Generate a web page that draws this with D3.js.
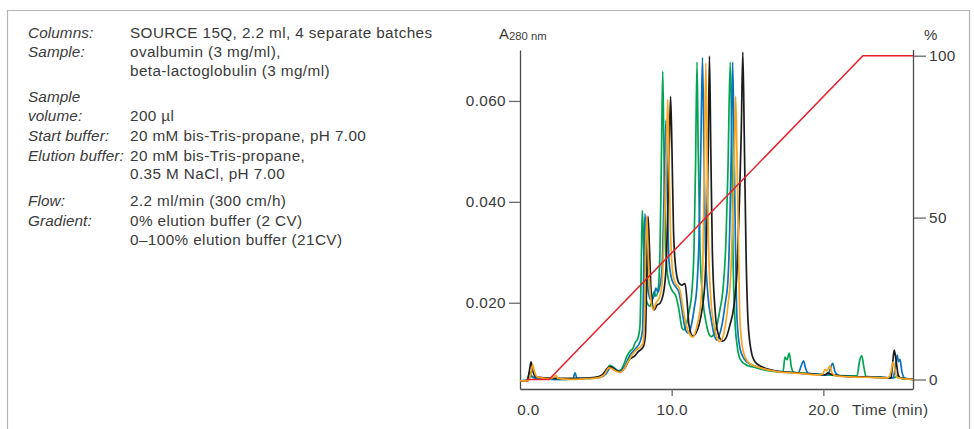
<!DOCTYPE html>
<html>
<head>
<meta charset="utf-8">
<script src="https://cdn.jsdelivr.net/npm/d3@7"></script>
<style>
  html, body { margin: 0; padding: 0; background: #fff; }
  svg text { font-family: "Liberation Sans", Arial, sans-serif; fill: #3a3a3a; }
</style>
</head>
<body>
<svg id="chart" width="974" height="429"></svg>
<script>
// Run conditions listed beside the chromatogram
const conditionLabels = ["Columns:", "Sample:", "", "Sample", "volume:", "Start buffer:",
  "Elution buffer:", "", "Flow:", "Gradient:", ""];
const conditionValues = ["SOURCE 15Q, 2.2 ml, 4 separate batches", "ovalbumin (3 mg/ml),",
  "beta-lactoglobulin (3 mg/ml)", "", "200 µl", "20 mM bis-Tris-propane, pH 7.00",
  "20 mM bis-Tris-propane,", "0.35 M NaCl, pH 7.00", "2.2 ml/min (300 cm/h)",
  "0% elution buffer (2 CV)", "0–100% elution buffer (21CV)"];

// Axis ticks
const timeTicks = [0, 10, 20];
const absTicks = [0.020, 0.040, 0.060];
const pctTicks = [0, 50, 100];

// Elution buffer gradient (time in min, % B)
const gradientTime = [0.4, 1.91, 22.61, 25.91];
const gradientPct = [0, 0, 100, 100];

// A280 traces of the four column batches: [time (min), absorbance]
const batchGreen = [
  [0, 0.0045], [0.46, 0.0045], [0.66, 0.0063], [0.79, 0.0053], [1.32, 0.0051], [1.98, 0.0049],
  [2.64, 0.0048], [3.63, 0.0049], [4.61, 0.0050], [5.27, 0.0053], [5.60, 0.0059], [5.93, 0.0076],
  [6.20, 0.0071], [6.46, 0.0065], [6.66, 0.0067], [6.86, 0.0079], [7.05, 0.0094], [7.25, 0.0104],
  [7.45, 0.0110], [7.58, 0.0120], [7.78, 0.0130], [7.91, 0.0154], [8.00, 0.0285], [8.06, 0.0383],
  [8.14, 0.0324], [8.24, 0.0225], [8.37, 0.0201], [8.57, 0.0193], [8.70, 0.0205], [8.83, 0.0221],
  [8.96, 0.0213], [9.10, 0.0225], [9.23, 0.0304], [9.33, 0.0502], [9.41, 0.0659], [9.48, 0.0522],
  [9.59, 0.0324], [9.76, 0.0249], [10.02, 0.0225], [10.28, 0.0213], [10.48, 0.0186], [10.68, 0.0150],
  [10.81, 0.0146], [10.94, 0.0154], [11.14, 0.0182], [11.34, 0.0225], [11.47, 0.0304], [11.57, 0.0463],
  [11.67, 0.0677], [11.75, 0.0502], [11.87, 0.0304], [12.06, 0.0205], [12.26, 0.0162], [12.46, 0.0138],
  [12.62, 0.0133], [12.79, 0.0138], [12.99, 0.0156], [13.18, 0.0186], [13.38, 0.0225], [13.58, 0.0324],
  [13.71, 0.0463], [13.86, 0.0677], [13.96, 0.0522], [14.04, 0.0304], [14.17, 0.0166], [14.31, 0.0116],
  [14.44, 0.0094], [14.64, 0.0083], [14.90, 0.0077], [15.29, 0.0073], [15.82, 0.0069], [16.48, 0.0065],
  [17.14, 0.0063], [17.34, 0.0063], [17.47, 0.0092], [17.60, 0.0087], [17.75, 0.0100], [17.90, 0.0071],
  [18.06, 0.0062], [18.79, 0.0060], [19.78, 0.0058], [20.77, 0.0056], [21.75, 0.0055], [22.22, 0.0055],
  [22.38, 0.0083], [22.53, 0.0095], [22.68, 0.0071], [22.81, 0.0054], [23.73, 0.0052], [24.39, 0.0051],
  [24.72, 0.0052], [24.92, 0.0055], [25.12, 0.0050], [25.91, 0.0048]
];
const batchBlue = [
  [0, 0.0045], [0.53, 0.0047], [0.73, 0.0055], [0.92, 0.0051], [1.65, 0.0049], [2.64, 0.0048],
  [3.49, 0.0049], [3.63, 0.0061], [3.76, 0.0050], [4.61, 0.0050], [5.27, 0.0052], [5.67, 0.0059],
  [6.00, 0.0073], [6.26, 0.0069], [6.59, 0.0064], [6.92, 0.0075], [7.25, 0.0096], [7.58, 0.0108],
  [7.91, 0.0122], [8.08, 0.0146], [8.17, 0.0285], [8.24, 0.0376], [8.34, 0.0304], [8.44, 0.0225],
  [8.64, 0.0205], [8.83, 0.0213], [8.96, 0.0229], [9.10, 0.0221], [9.23, 0.0235], [9.36, 0.0265],
  [9.49, 0.0403], [9.62, 0.0562], [9.72, 0.0403], [9.82, 0.0285], [10.02, 0.0245], [10.28, 0.0231],
  [10.48, 0.0221], [10.68, 0.0186], [10.88, 0.0150], [11.08, 0.0140], [11.27, 0.0152], [11.47, 0.0186],
  [11.67, 0.0235], [11.80, 0.0324], [11.92, 0.0502], [12.03, 0.0686], [12.13, 0.0502], [12.23, 0.0304],
  [12.39, 0.0215], [12.59, 0.0170], [12.79, 0.0138], [12.97, 0.0126], [13.12, 0.0134], [13.32, 0.0156],
  [13.51, 0.0195], [13.71, 0.0245], [13.84, 0.0364], [13.93, 0.0502], [14.02, 0.0677], [14.12, 0.0502],
  [14.21, 0.0304], [14.31, 0.0166], [14.50, 0.0110], [14.77, 0.0089], [15.16, 0.0079], [15.82, 0.0071],
  [16.81, 0.0065], [17.80, 0.0062], [18.34, 0.0061], [18.54, 0.0075], [18.69, 0.0085], [18.82, 0.0071],
  [18.99, 0.0060], [19.78, 0.0058], [20.30, 0.0057], [20.50, 0.0073], [20.61, 0.0080], [20.77, 0.0063],
  [21.09, 0.0055], [22.41, 0.0053], [23.73, 0.0052], [24.59, 0.0051], [24.72, 0.0067], [24.87, 0.0096],
  [24.95, 0.0083], [25.05, 0.0088], [25.18, 0.0063], [25.38, 0.0050], [25.91, 0.0048]
];
const batchOrange = [
  [0, 0.0045], [0.53, 0.0045], [0.73, 0.0061], [0.84, 0.0077], [0.96, 0.0063], [1.12, 0.0053],
  [1.45, 0.0051], [1.98, 0.0049], [2.24, 0.0053], [2.37, 0.0056], [2.50, 0.0050], [3.30, 0.0048],
  [4.28, 0.0049], [5.14, 0.0051], [5.54, 0.0057], [5.87, 0.0071], [6.06, 0.0069], [6.33, 0.0064],
  [6.59, 0.0062], [6.86, 0.0069], [7.12, 0.0083], [7.38, 0.0096], [7.65, 0.0106], [7.91, 0.0112],
  [8.11, 0.0120], [8.21, 0.0166], [8.27, 0.0285], [8.35, 0.0372], [8.44, 0.0304], [8.57, 0.0225],
  [8.79, 0.0186], [8.96, 0.0199], [9.10, 0.0205], [9.23, 0.0215], [9.36, 0.0235], [9.49, 0.0324],
  [9.62, 0.0463], [9.74, 0.0603], [9.82, 0.0483], [9.92, 0.0344], [10.09, 0.0255], [10.28, 0.0237],
  [10.44, 0.0232], [10.55, 0.0225], [10.74, 0.0190], [11.01, 0.0150], [11.27, 0.0134], [11.40, 0.0132],
  [11.54, 0.0140], [11.73, 0.0162], [11.93, 0.0205], [12.06, 0.0285], [12.15, 0.0463], [12.25, 0.0675],
  [12.34, 0.0483], [12.44, 0.0304], [12.59, 0.0205], [12.79, 0.0156], [12.99, 0.0130], [13.14, 0.0123],
  [13.32, 0.0128], [13.51, 0.0150], [13.71, 0.0195], [13.91, 0.0265], [14.04, 0.0384], [14.14, 0.0502],
  [14.22, 0.0609], [14.31, 0.0483], [14.41, 0.0304], [14.50, 0.0166], [14.70, 0.0106], [14.97, 0.0085],
  [15.29, 0.0077], [15.82, 0.0071], [16.81, 0.0064], [17.80, 0.0061], [18.79, 0.0059], [19.64, 0.0057],
  [19.97, 0.0059], [20.11, 0.0068], [20.24, 0.0065], [20.44, 0.0075], [20.57, 0.0061], [20.83, 0.0055],
  [21.75, 0.0053], [23.07, 0.0052], [24.26, 0.0051], [24.46, 0.0063], [24.61, 0.0083], [24.72, 0.0067],
  [24.85, 0.0052], [25.38, 0.0049], [25.91, 0.0048]
];
const batchBlack = [
  [0, 0.0045], [0.46, 0.0045], [0.63, 0.0067], [0.73, 0.0083], [0.86, 0.0063], [1.05, 0.0053],
  [1.65, 0.0051], [2.64, 0.0050], [3.96, 0.0050], [4.94, 0.0052], [5.41, 0.0057], [5.80, 0.0071],
  [6.00, 0.0073], [6.26, 0.0067], [6.59, 0.0063], [6.92, 0.0071], [7.25, 0.0089], [7.51, 0.0093],
  [7.80, 0.0103], [8.13, 0.0113], [8.27, 0.0136], [8.36, 0.0265], [8.44, 0.0371], [8.54, 0.0304],
  [8.64, 0.0225], [8.85, 0.0186], [9.03, 0.0195], [9.23, 0.0199], [9.43, 0.0215], [9.62, 0.0265],
  [9.76, 0.0403], [9.85, 0.0522], [9.93, 0.0609], [10.02, 0.0502], [10.12, 0.0344], [10.28, 0.0265],
  [10.48, 0.0239], [10.66, 0.0235], [10.88, 0.0238], [11.01, 0.0205], [11.14, 0.0156], [11.40, 0.0134],
  [11.60, 0.0140], [11.80, 0.0156], [12.00, 0.0186], [12.20, 0.0245], [12.33, 0.0364], [12.41, 0.0502],
  [12.49, 0.0689], [12.58, 0.0502], [12.68, 0.0304], [12.86, 0.0186], [13.05, 0.0140], [13.36, 0.0124],
  [13.58, 0.0130], [13.84, 0.0156], [14.11, 0.0195], [14.31, 0.0265], [14.47, 0.0403], [14.59, 0.0542],
  [14.69, 0.0697], [14.79, 0.0522], [14.90, 0.0304], [15.03, 0.0166], [15.23, 0.0106], [15.49, 0.0083],
  [15.95, 0.0073], [16.81, 0.0065], [17.80, 0.0062], [19.12, 0.0059], [20.11, 0.0057], [20.30, 0.0061],
  [20.44, 0.0059], [21.09, 0.0055], [22.41, 0.0053], [23.73, 0.0052], [24.46, 0.0051], [24.56, 0.0077],
  [24.67, 0.0106], [24.79, 0.0087], [24.92, 0.0059], [25.05, 0.0051], [25.91, 0.0048]
];

const traces = [
  { values: batchGreen, color: "#00a551" },
  { values: batchBlue, color: "#0a72bd" },
  { values: batchBlack, color: "#1c1c1c" },
  { values: batchOrange, color: "#f7a520" }
];

const svg = d3.select("#chart");
const plot = { left: 520, right: 913, top: 50, bottom: 389 };

// Outer panel frame
svg.append("path")
  .attr("d", `M7.5,440V10.5H969.5V440`)
  .attr("fill", "none").attr("stroke", "#b4b4b4").attr("stroke-width", 1.2);

// Conditions block
const rowBaselines = [38, 57, 76, 102, 121, 141, 161, 179, 206, 226, 245];
const cond = svg.append("g").style("font-size", "15.3px");
conditionLabels.forEach((t, i) => {
  if (t) cond.append("text").attr("x", 28).attr("y", rowBaselines[i])
    .style("font-style", "italic").style("letter-spacing", "0.1px").text(t);
});
conditionValues.forEach((t, i) => {
  if (t) cond.append("text").attr("x", 130).attr("y", rowBaselines[i])
    .style("letter-spacing", "0.4px").text(t);
});

// Scales
const x = d3.scaleLinear().domain([0, 25.91]).range([plot.left, plot.right]);
const y = d3.scaleLinear().domain([0.0029, 0.0701]).range([plot.bottom, plot.top]);
const yPct = d3.scaleLinear().domain([0, 100]).range([379.5, 55.7]);

function styleAxis(g) {
  g.selectAll("path.domain").attr("stroke", "#4a4a4a").attr("stroke-width", 1.3);
  g.selectAll(".tick line").attr("stroke", "#6a6a6a").attr("stroke-width", 1.3);
  g.selectAll(".tick text").attr("fill", "#3a3a3a")
    .style("font-family", '"Liberation Sans", Arial, sans-serif')
    .style("font-size", "15.3px").style("letter-spacing", "0.4px");
}

// Left absorbance axis
const gLeft = svg.append("g").attr("transform", `translate(${plot.left},0)`)
  .call(d3.axisLeft(y).tickValues(absTicks).tickFormat(d3.format(".3f"))
    .tickSize(11).tickSizeOuter(0).tickPadding(3));
styleAxis(gLeft);

// Bottom time axis
const gBottom = svg.append("g").attr("transform", `translate(0,${plot.bottom})`)
  .call(d3.axisBottom(x).tickValues(timeTicks).tickFormat(d3.format(".1f"))
    .tickSize(7).tickSizeOuter(0).tickPadding(8));
styleAxis(gBottom);
gBottom.selectAll(".tick").filter(d => d === 0).select("line").remove();
gBottom.selectAll(".tick").filter(d => d === 0).select("text").attr("dx", 8);

// Right gradient axis
const gRight = svg.append("g").attr("transform", `translate(${plot.right},0)`)
  .call(d3.axisRight(yPct).tickValues(pctTicks).tickSize(13).tickSizeOuter(0).tickPadding(3));
gRight.select("path.domain").remove();
styleAxis(gRight);
gRight.append("line").attr("x1", 0.5).attr("x2", 0.5).attr("y1", plot.top).attr("y2", plot.bottom)
  .attr("stroke", "#4a4a4a").attr("stroke-width", 1.3);

// Axis titles
const aTitle = svg.append("text").attr("x", 499).attr("y", 39).style("font-size", "15px");
aTitle.append("tspan").text("A");
aTitle.append("tspan").attr("dy", 1).style("font-size", "11.3px").text("280 nm");
svg.append("text").attr("x", 924).attr("y", 40).style("font-size", "15px").text("%");
svg.append("text").attr("x", 852).attr("y", 415).style("font-size", "15.3px")
  .style("letter-spacing", "0.4px").text("Time (min)");

// Chromatogram traces
const line = d3.line().x(d => x(d[0])).y(d => y(d[1])).curve(d3.curveMonotoneX);
svg.append("g").selectAll("path").data(traces).join("path")
  .attr("d", d => line(d.values))
  .attr("fill", "none").attr("stroke", d => d.color)
  .attr("stroke-width", 1.7).attr("stroke-linejoin", "round");

// Gradient line
const gradLine = d3.line().x(d => x(d[0])).y(d => yPct(d[1]));
svg.append("path")
  .attr("d", gradLine(gradientTime.map((t, i) => [t, gradientPct[i]])))
  .attr("fill", "none").attr("stroke", "#e8202a").attr("stroke-width", 1.5);
</script>
</body>
</html>
